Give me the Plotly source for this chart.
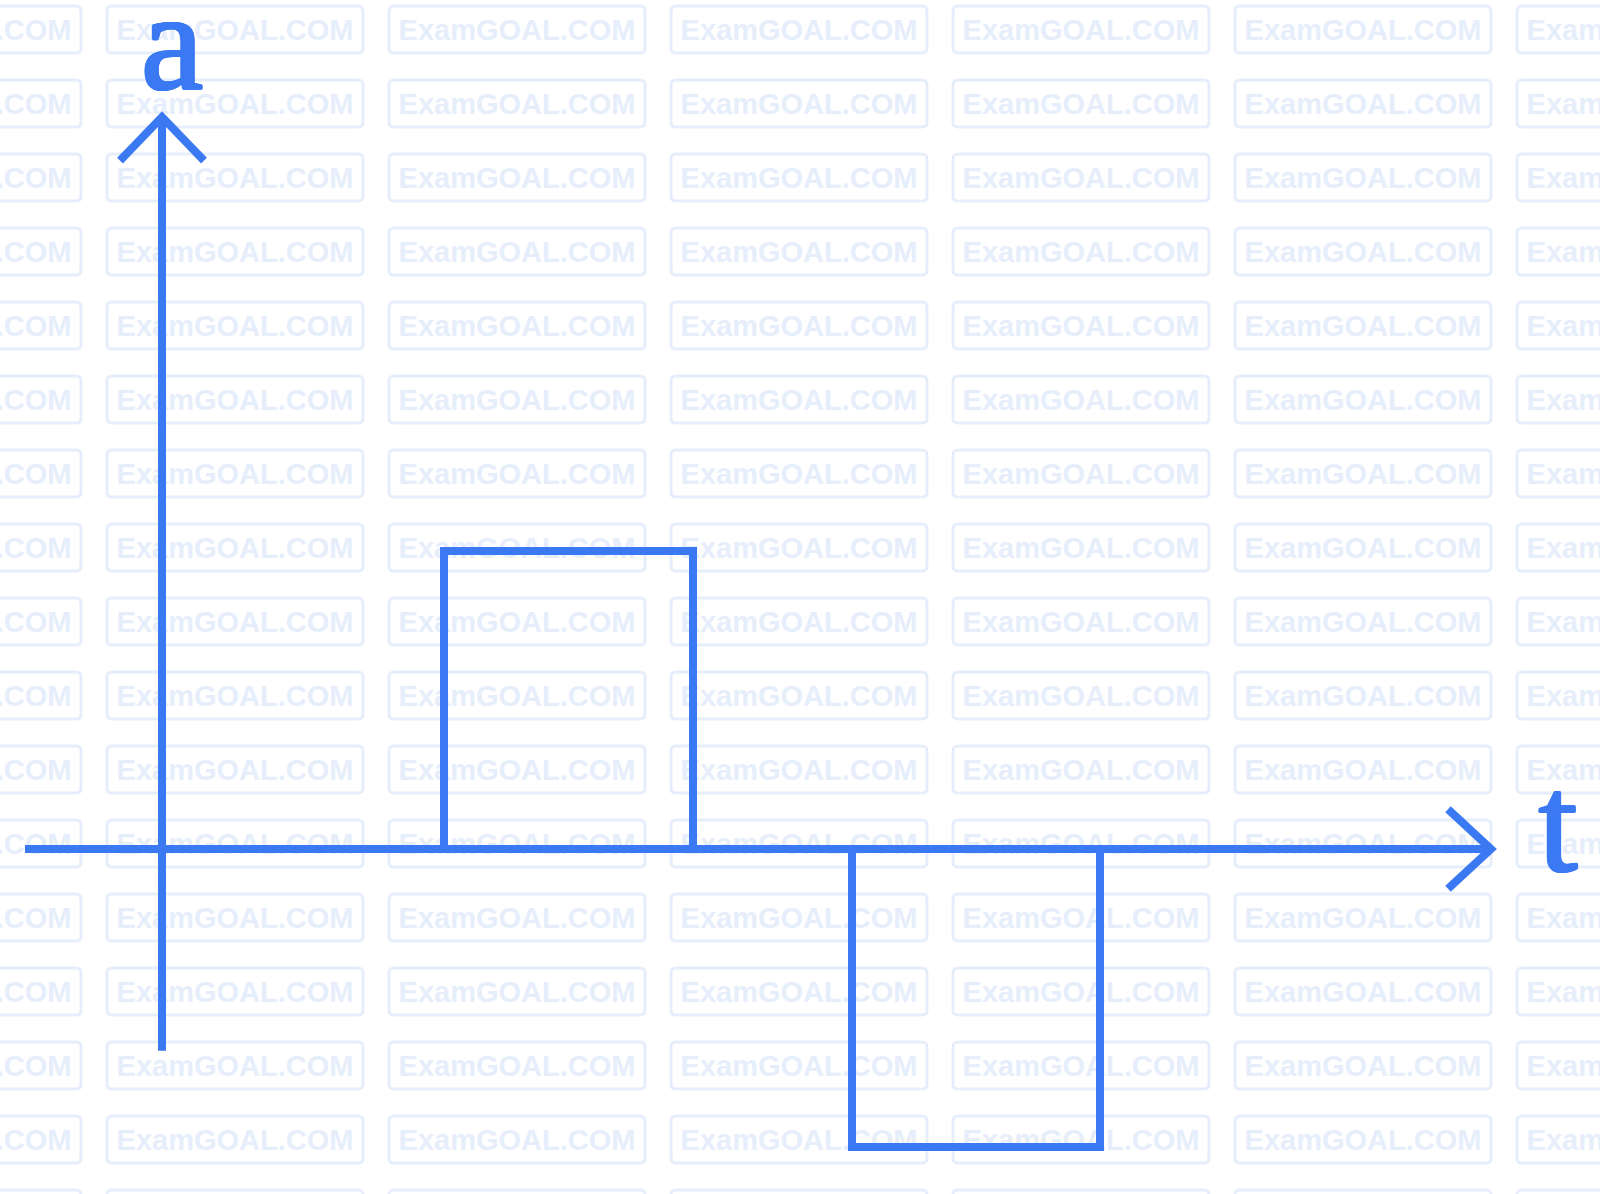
import plotly.graph_objects as go

# Acceleration pulses: (start time, end time, acceleration)
pulse_start = [2.82, 6.90]
pulse_end = [5.31, 9.38]
pulse_accel = [3.0, -3.0]

axis_t_min, axis_t_max = -1.37, 13.29
axis_a_min, axis_a_max = -2.03, 7.37
axis_labels = ["a", "t"]

WATERMARK = "ExamGOAL.COM"

W, H = 1600, 1194
X0_PX, Y0_PX = 162, 849          # origin on the page
SX, SY = 100.0, 99.33            # pixels per unit

def dx(px):
    return (px - X0_PX) / SX

def dy(py):
    return (Y0_PX - py) / SY

BLUE = "#3a79f2"
WM = "#e6eefc"

fig = go.Figure()

# Tiled watermark boxes and text
wm_x, wm_y = [], []
shapes = []
r = 5
for j in range(17):
    top = 6 + 74 * j
    bot = top + 47
    for k in range(-1, 6):
        left = 107 + 282 * k
        right = left + 256
        p = (f"M {dx(left + r)},{dy(top)} L {dx(right - r)},{dy(top)} "
             f"Q {dx(right)},{dy(top)} {dx(right)},{dy(top + r)} "
             f"L {dx(right)},{dy(bot - r)} Q {dx(right)},{dy(bot)} {dx(right - r)},{dy(bot)} "
             f"L {dx(left + r)},{dy(bot)} Q {dx(left)},{dy(bot)} {dx(left)},{dy(bot - r)} "
             f"L {dx(left)},{dy(top + r)} Q {dx(left)},{dy(top)} {dx(left + r)},{dy(top)} Z")
        shapes.append(dict(type="path", path=p, xref="x", yref="y", layer="below",
                           line=dict(color=WM, width=3)))
        wm_x.append(dx((left + right) / 2))
        wm_y.append(dy((top + bot) / 2 + 3))

fig.add_trace(go.Scatter(
    x=wm_x, y=wm_y, mode="text", text=[WATERMARK] * len(wm_x),
    textfont=dict(family="Liberation Sans", size=29, color=WM, weight="bold"),
    textposition="middle center", hoverinfo="skip", showlegend=False))

line_style = dict(color=BLUE, width=8)

# Time axis with arrowhead
fig.add_trace(go.Scatter(x=[axis_t_min, axis_t_max], y=[0, 0], mode="lines",
                         line=line_style, showlegend=False, hoverinfo="skip"))
fig.add_trace(go.Scatter(x=[axis_t_max - 0.43, axis_t_max, axis_t_max - 0.43],
                         y=[0.40, 0, -0.40], mode="lines",
                         line=line_style, showlegend=False, hoverinfo="skip"))

# Acceleration axis with arrowhead
fig.add_trace(go.Scatter(x=[0, 0], y=[axis_a_min, axis_a_max], mode="lines",
                         line=line_style, showlegend=False, hoverinfo="skip"))
fig.add_trace(go.Scatter(x=[-0.42, 0, 0.42],
                         y=[axis_a_max - 0.44, axis_a_max, axis_a_max - 0.44], mode="lines",
                         line=line_style, showlegend=False, hoverinfo="skip"))

# Rectangular acceleration pulses
for t0, t1, a in zip(pulse_start, pulse_end, pulse_accel):
    fig.add_trace(go.Scatter(x=[t0, t0, t1, t1], y=[0, a, a, 0], mode="lines",
                             line=line_style, showlegend=False, hoverinfo="skip"))

# Axis letters (regular serif, slightly thickened with a tight outline shadow)
thick = ", ".join(f"{ox}px {oy}px 0 {BLUE}" for ox, oy in
                  [(1.5, 0), (-1.5, 0), (0, 1), (0, -1), (1, 1), (-1, -1), (1, -1), (-1, 1)])
fig.add_trace(go.Scatter(
    x=[dx(172), dx(1558)], y=[dy(54), dy(836)], mode="text", text=axis_labels,
    textfont=dict(family="Liberation Serif", size=140, color=BLUE, shadow=thick),
    textposition="middle center", hoverinfo="skip", showlegend=False))

fig.update_layout(
    width=W, height=H,
    margin=dict(l=0, r=0, t=0, b=0),
    paper_bgcolor="white", plot_bgcolor="white",
    shapes=shapes,
    xaxis=dict(range=[dx(0), dx(W)], visible=False, fixedrange=True),
    yaxis=dict(range=[dy(H), dy(0)], visible=False, fixedrange=True),
)

fig.write_html("out.html")
